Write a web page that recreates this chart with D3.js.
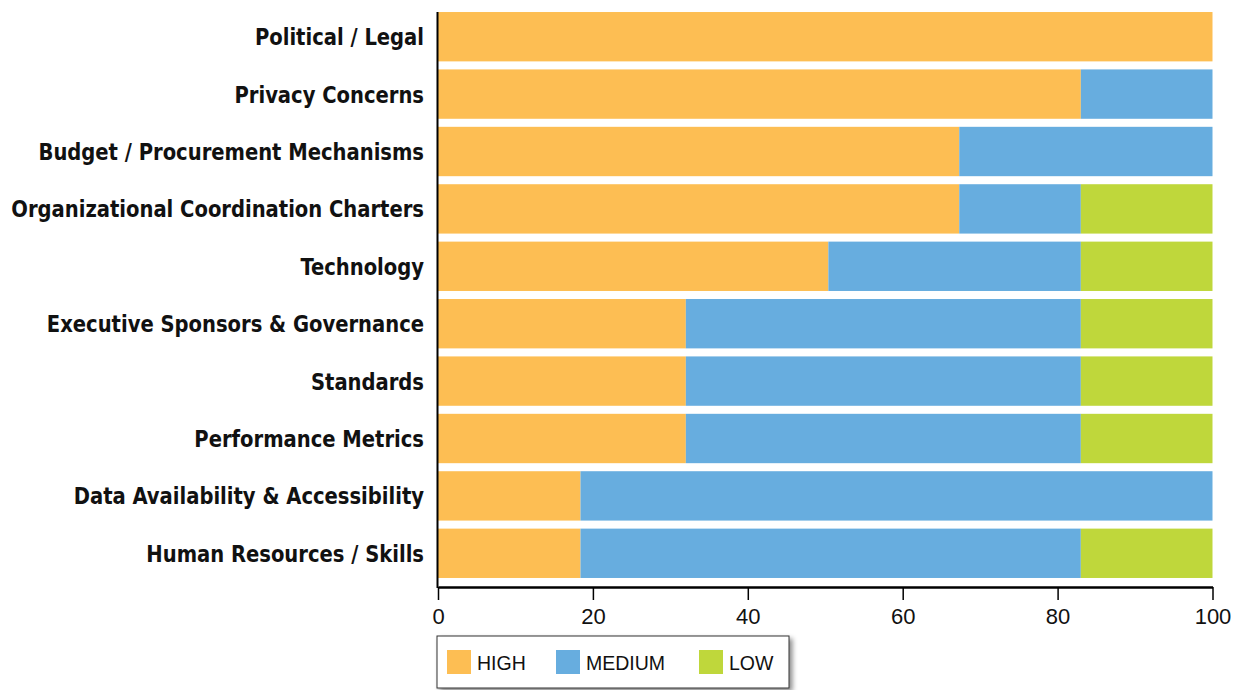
<!DOCTYPE html>
<html>
<head>
<meta charset="utf-8">
<script src="https://cdn.jsdelivr.net/npm/d3@7"></script>
<style>
  body { margin: 0; background: #fff; }
  .cat-label { font-family: "DejaVu Sans Condensed", "DejaVu Sans", sans-serif; font-stretch: condensed; font-weight: bold; font-size: 23.5px; fill: #111; }
  .x-axis text { font-family: "Liberation Sans", Arial, sans-serif; font-size: 22px; fill: #111; }
  .legend text { font-family: "Liberation Sans", Arial, sans-serif; font-size: 19.5px; fill: #111; }
</style>
</head>
<body>
<div id="chart"></div>
<script>
// chart data
var categories = ["Political / Legal", "Privacy Concerns", "Budget / Procurement Mechanisms",
    "Organizational Coordination Charters", "Technology", "Executive Sponsors & Governance",
    "Standards", "Performance Metrics", "Data Availability & Accessibility", "Human Resources / Skills"];
var highValues   = [100, 83, 67.3, 67.3, 50.4, 32, 32, 32, 18.4, 18.4];
var mediumValues = [0, 17, 32.7, 15.7, 32.6, 51, 51, 51, 81.6, 64.6];
var lowValues    = [0, 0, 0, 17, 17, 17, 17, 17, 0, 17];
var seriesNames  = ["HIGH", "MEDIUM", "LOW"];
var xTicks       = [0, 20, 40, 60, 80, 100];

var colors = { HIGH: "#fdbe53", MEDIUM: "#67addf", LOW: "#bfd73b" };

var rows = categories.map(function(c, i) {
    return { cat: c, HIGH: highValues[i], MEDIUM: mediumValues[i], LOW: lowValues[i] };
});

var width = 1251, height = 690;
var svg = d3.select("#chart").append("svg")
    .attr("width", width)
    .attr("height", height);

var x = d3.scaleLinear().domain([0, 100]).range([438, 1212.5]);
var y = d3.scaleBand().domain(categories).range([8, 582]).paddingInner(0.14).paddingOuter(0.07);

var stack = d3.stack().keys(seriesNames);
var layers = stack(rows);

var g = svg.append("g");
layers.forEach(function(layer) {
    g.selectAll(".bar-" + layer.key)
        .data(layer)
        .enter()
        .append("rect")
        .attr("x", function(d) { return x(d[0]); })
        .attr("y", function(d) { return y(d.data.cat); })
        .attr("width", function(d) { return x(d[1]) - x(d[0]); })
        .attr("height", y.bandwidth())
        .attr("fill", colors[layer.key]);
});

// category labels
var labels = svg.selectAll(".cat-label")
    .data(categories)
    .enter()
    .append("text")
    .attr("class", "cat-label")
    .attr("x", 424)
    .attr("y", function(d) { return y(d) + y.bandwidth() / 2 + 8.5; })
    .attr("text-anchor", "end")
    .text(function(d) { return d; });

// keep the longest label inside the left edge
var longest = d3.max(labels.nodes(), function(n) { return n.getComputedTextLength(); });
if (longest > 413) {
    var k = 413 / longest;
    labels.attr("transform", function() { return "translate(424,0) scale(" + k + ",1) translate(-424,0)"; });
}

// y axis line
svg.append("line")
    .attr("x1", 437.5).attr("x2", 437.5)
    .attr("y1", 12).attr("y2", 588)
    .attr("stroke", "#000").attr("stroke-width", 2);

// x axis
var xAxis = d3.axisBottom(x).tickValues(xTicks).tickSize(13).tickSizeOuter(0).tickPadding(8);
var xg = svg.append("g")
    .attr("class", "x-axis")
    .attr("transform", "translate(0,587)")
    .call(xAxis);
xg.select(".domain").attr("stroke", "#000").attr("stroke-width", 2.5);
xg.selectAll(".tick line").attr("stroke", "#000").attr("stroke-width", 1.5);
xg.selectAll(".tick text").attr("fill", "#111");

// legend
var defs = svg.append("defs");
var filt = defs.append("filter").attr("id", "shadow").attr("x", "-5%").attr("y", "-20%").attr("width", "115%").attr("height", "160%");
filt.append("feDropShadow").attr("dx", 3).attr("dy", 3).attr("stdDeviation", 2.5).attr("flood-color", "#000").attr("flood-opacity", 0.45);

var legend = svg.append("g").attr("class", "legend");
legend.append("rect")
    .attr("x", 437).attr("y", 636)
    .attr("width", 352).attr("height", 52)
    .attr("fill", "#fff").attr("stroke", "#333").attr("stroke-width", 1)
    .attr("filter", "url(#shadow)");

var legendX = [447, 556, 699];
var items = legend.selectAll(".item")
    .data(seriesNames)
    .enter()
    .append("g")
    .attr("class", "item")
    .attr("transform", function(d, i) { return "translate(" + legendX[i] + ",650)"; });
items.append("rect")
    .attr("width", 24).attr("height", 24)
    .attr("fill", function(d) { return colors[d]; });
items.append("text")
    .attr("x", 30).attr("y", 20)
    .text(function(d) { return d; });
</script>
</body>
</html>
